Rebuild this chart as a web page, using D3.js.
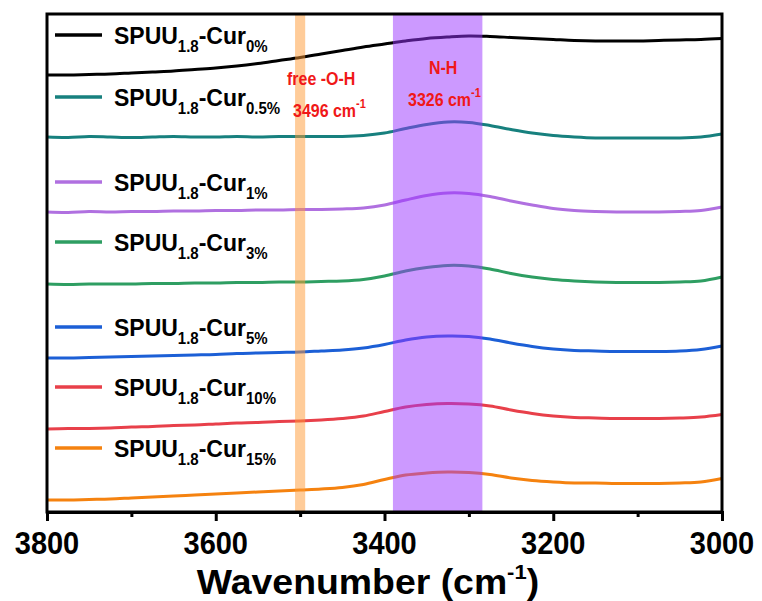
<!DOCTYPE html>
<html><head><meta charset="utf-8">
<script src="https://cdn.jsdelivr.net/npm/d3@7"></script>
<style>body{margin:0;background:#fff}svg{display:block}</style>
</head><body>
<svg id="c" width="762" height="601"></svg>
<script>
// ---- data (transmittance in arbitrary units) ----
const wavenumbers = [3800,3775,3750,3725,3700,3675,3650,3625,3600,3575,3550,3525,3500,3475,3450,3425,3400,3375,3350,3325,3300,3275,3250,3225,3200,3175,3150,3125,3100,3075,3050,3025,3000];
const cur0   = [109.25,109.25,109.38,109.5,109.75,110,110.25,110.63,111,111.5,112.13,112.88,113.63,114.5,115.38,116.25,117,117.75,118.38,118.75,119,118.88,118.63,118.38,118.13,117.88,117.75,117.75,117.75,117.88,118,118.13,118.38];
const cur05  = [93.75,93.63,93.88,93.75,93.63,93.75,93.88,93.75,93.75,93.88,93.75,93.88,93.88,93.88,93.88,94.13,94.75,95.88,96.88,97.5,97.38,96.63,95.63,94.75,94.13,93.75,93.5,93.5,93.5,93.5,93.5,93.75,94.5];
const cur1   = [75,74.88,75.13,75,75.13,75.13,75.25,75.25,75.38,75.38,75.5,75.5,75.63,75.63,75.75,76,76.75,78,79.13,79.75,79.63,78.88,77.75,76.75,75.88,75.38,75.13,75,75,75,75.13,75.38,76.25];
const cur3   = [57,56.88,57,57,57,57.13,57.13,57.25,57.25,57.38,57.38,57.5,57.5,57.63,57.75,58.13,59,60.25,61.13,61.63,61.5,60.75,59.63,58.75,58.13,57.75,57.5,57.38,57.38,57.38,57.5,57.75,58.75];
const cur5   = [38.5,38.5,38.63,38.75,38.88,39,39.13,39.25,39.38,39.63,39.75,39.88,40,40.25,40.5,41,41.88,43,43.75,44,43.88,43.25,42.25,41.38,40.75,40.38,40.25,40.13,40.13,40.13,40.25,40.63,41.5];
const cur10  = [20.75,20.88,20.88,21,21.25,21.38,21.63,21.75,22,22.25,22.38,22.63,22.75,23,23.38,24,25.13,26.25,26.88,27.13,27,26.5,25.5,24.63,24,23.63,23.5,23.38,23.38,23.38,23.5,23.75,24.38];
const cur15  = [3,3,3.13,3.25,3.5,3.75,4,4.25,4.5,4.75,5,5.25,5.5,5.75,6.13,6.88,8.13,9.25,9.75,10,9.88,9.38,8.5,7.88,7.5,7.25,7.25,7.13,7.13,7.13,7.25,7.5,8.38];
const seriesLabels = ["0%","0.5%","1%","3%","5%","10%","15%"];
const xMajorTicks = [3800,3600,3400,3200,3000];
const xMinorTicks = [3700,3500,3300,3100];
const bandOH = [3506,3494];
const bandNH = [3390,3284];

// ---- style / layout ----
const colors = ["#000000","#17807e","#b070e0","#2e9e62","#1c5fd6","#e8404a","#f5820f"];
const legendY = [35,97,182,242,327,387,448];
const seriesData = [cur0,cur05,cur1,cur3,cur5,cur10,cur15];
const L = 47, R = 722, T = 14, B = 512;
const FONT = "'Liberation Sans', Arial, sans-serif";

const svg = d3.select("#c").style("font-family", FONT);
const x = d3.scaleLinear().domain([3800,3000]).range([L,R]);
const y = d3.scaleLinear().domain([0,124.5]).range([B,T]);

const line = d3.line().x((d,i)=>x(wavenumbers[i])).y(d=>y(d)).curve(d3.curveCatmullRom);

const gCurves = svg.append("g");
seriesData.forEach((s,k)=>{
  gCurves.append("path").attr("d", line(s)).attr("fill","none")
    .attr("stroke", colors[k]).attr("stroke-width",3).attr("stroke-linejoin","round");
});

// bands on top, semi-transparent
svg.append("rect").attr("x", x(bandOH[0])).attr("width", x(bandOH[1])-x(bandOH[0]))
  .attr("y", T).attr("height", B-T).attr("fill","#ff9933").attr("opacity",0.5);
svg.append("rect").attr("x", x(bandNH[0])).attr("width", x(bandNH[1])-x(bandNH[0]))
  .attr("y", T).attr("height", B-T).attr("fill","#9933ff").attr("opacity",0.5);

// frame
svg.append("rect").attr("x",L).attr("y",T).attr("width",R-L).attr("height",B-T)
  .attr("fill","none").attr("stroke","#000").attr("stroke-width",3);

// x axis
const ax = svg.append("g").attr("transform",`translate(0,${B})`)
  .call(d3.axisBottom(x).tickValues(xMajorTicks).tickSize(9).tickFormat(""));
ax.select(".domain").attr("stroke-width",3);
ax.selectAll(".tick line").attr("stroke-width",3);
const axm = svg.append("g").attr("transform",`translate(0,${B})`)
  .call(d3.axisBottom(x).tickValues(xMinorTicks).tickSize(5).tickFormat(""));
axm.select(".domain").remove();
axm.selectAll(".tick line").attr("stroke-width",3);
svg.append("g").selectAll("text").data(xMajorTicks).join("text")
  .attr("transform", d=>`translate(${x(d)},554) scale(1,1.08)`)
  .attr("text-anchor","middle").attr("font-size",29).attr("font-weight","bold")
  .text(d=>d3.format("d")(d));

// axis title
const title = svg.append("text").attr("transform","translate(368,594) scale(1.1,1.05)").attr("text-anchor","middle")
  .attr("font-size",34).attr("font-weight","bold");
title.append("tspan").text("Wavenumber (cm");
title.append("tspan").text("-1").attr("font-size",20).attr("dy",-14);
title.append("tspan").text(")").attr("dy",14);

// legend
seriesLabels.forEach((lab,k)=>{
  const ly = legendY[k];
  svg.append("line").attr("x1",55).attr("x2",102).attr("y1",ly).attr("y2",ly)
    .attr("stroke",colors[k]).attr("stroke-width",3.5);
  const t = svg.append("text").attr("transform",`translate(114,${ly+9}) scale(1,1.08)`)
    .attr("font-size",23).attr("font-weight","bold");
  t.append("tspan").text("SPUU");
  t.append("tspan").text("1.8").attr("font-size",15).attr("dy",7);
  t.append("tspan").text("-Cur").attr("dy",-7);
  t.append("tspan").text(lab).attr("font-size",15).attr("dy",7);
});

// annotations
function annot(tx, ty, main, sup){
  const t = svg.append("text").attr("transform",`translate(${tx},${ty}) scale(1,1.1)`).attr("font-size",16)
    .attr("font-weight","bold").attr("fill","#f01818");
  t.append("tspan").text(main);
  if (sup) t.append("tspan").text(sup).attr("font-size",11).attr("dy",-8);
}
annot(287, 85, "free -O-H");
annot(293, 117, "3496 cm", "-1");
annot(429, 74, "N-H");
annot(408, 106, "3326 cm", "-1");
</script>
</body></html>
